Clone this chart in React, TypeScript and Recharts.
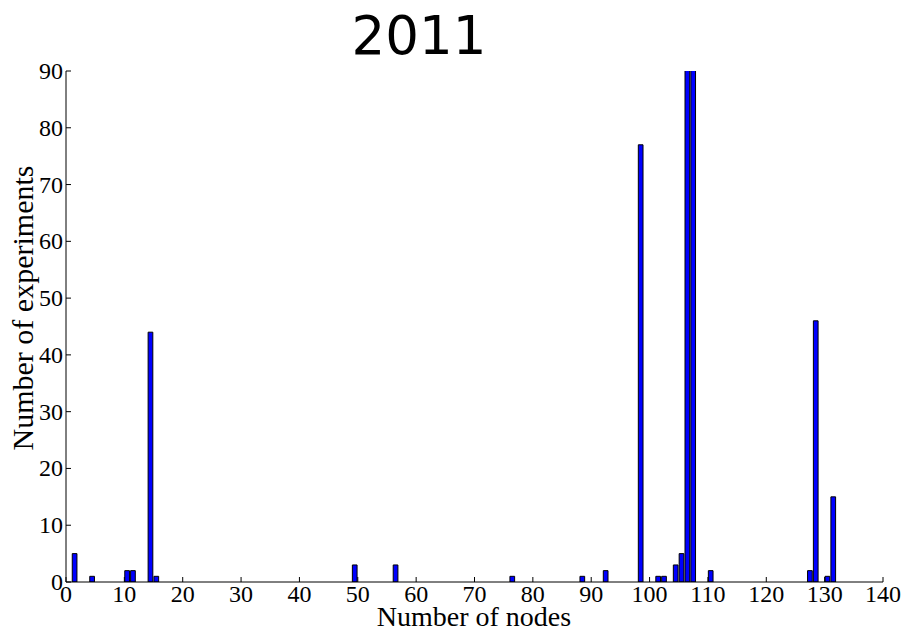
import { Bar, BarChart, XAxis, YAxis } from "recharts";

// matplotlib-style histogram of experiment sizes
const nodeCounts = [1, 4, 10, 11, 14, 15, 49, 56, 76, 88, 92, 98, 101, 102, 104, 105, 106, 107, 110, 127, 128, 130, 131];
const experiments = [5, 1, 2, 2, 44, 1, 3, 3, 1, 1, 2, 77, 1, 1, 3, 5, 150, 118, 2, 2, 46, 1, 15];
const xTicks = [0, 10, 20, 30, 40, 50, 60, 70, 80, 90, 100, 110, 120, 130, 140];
const yTicks = [0, 10, 20, 30, 40, 50, 60, 70, 80, 90];

const BAR_WIDTH = 0.8; // bars are edge-aligned, width 0.8 units

const chartData = nodeCounts.map((n, i) => ({ center: n + BAR_WIDTH / 2, count: experiments[i] }));

const serif = '"Liberation Serif", "Times New Roman", serif';
const TICK_LEN = 5;

const BottomTick = (props: any) => {
  const { x, y, payload } = props;
  return (
    <g>
      <line x1={x} x2={x} y1={y} y2={y - TICK_LEN} stroke="#000" />
      <text x={x} y={y + 20} textAnchor="middle" fontFamily={serif} fontSize={24} fill="#000">
        {payload.value}
      </text>
    </g>
  );
};

const TopTick = (props: any) => {
  const { x, y } = props;
  return <line x1={x} x2={x} y1={y} y2={y + TICK_LEN} stroke="#000" />;
};

const LeftTick = (props: any) => {
  const { x, y, payload } = props;
  return (
    <g>
      <line x1={x} x2={x + TICK_LEN} y1={y} y2={y} stroke="#000" />
      <text x={x - 3} y={y + 8} textAnchor="end" fontFamily={serif} fontSize={24} fill="#000">
        {payload.value}
      </text>
    </g>
  );
};

const RightTick = (props: any) => {
  const { x, y } = props;
  return <line x1={x} x2={x - TICK_LEN} y1={y} y2={y} stroke="#000" />;
};

export default function App() {
  return (
    <div style={{ position: "absolute", left: 0, top: 0, width: 902, height: 632, background: "#fff" }}>
      <BarChart
        width={902}
        height={632}
        data={chartData}
        margin={{ top: 71, right: 19, bottom: 0, left: 0 }}
        barSize={4.7}
      >
        <XAxis
          dataKey="center"
          type="number"
          domain={[0, 140]}
          ticks={xTicks}
          height={50}
          tickSize={0}
          tickMargin={0}
          tickLine={false}
          axisLine={{ stroke: "#000" }}
          tick={<BottomTick />}
          interval={0}
        />
        <XAxis
          xAxisId="top"
          orientation="top"
          dataKey="center"
          type="number"
          domain={[0, 140]}
          ticks={xTicks}
          height={0}
          tickSize={0}
          tickMargin={0}
          tickLine={false}
          axisLine={{ stroke: "#000" }}
          tick={<TopTick />}
          interval={0}
        />
        <YAxis
          type="number"
          domain={[0, 90]}
          ticks={yTicks}
          allowDataOverflow
          width={66}
          tickSize={0}
          tickMargin={0}
          tickLine={false}
          axisLine={{ stroke: "#000" }}
          tick={<LeftTick />}
          interval={0}
        />
        <YAxis
          yAxisId="right"
          orientation="right"
          type="number"
          domain={[0, 90]}
          ticks={yTicks}
          width={0}
          tickSize={0}
          tickMargin={0}
          tickLine={false}
          axisLine={{ stroke: "#000" }}
          tick={<RightTick />}
          interval={0}
        />
        <Bar dataKey="count" fill="#0000ff" stroke="#000" strokeWidth={1} isAnimationActive={false} />
      </BarChart>
      <svg
        width={902}
        height={632}
        style={{ position: "absolute", left: 0, top: 0, pointerEvents: "none" }}
      >
        <text
          x={419}
          y={54}
          textAnchor="middle"
          fontFamily='"Comic Sans MS", "DejaVu Sans", sans-serif'
          fontSize={53}
          fill="#000"
        >
          2011
        </text>
        <text x={474} y={626} textAnchor="middle" fontFamily={serif} fontSize={28} fill="#000">
          Number of nodes
        </text>
        <text
          x={33}
          y={308}
          textAnchor="middle"
          fontFamily={serif}
          fontSize={30}
          fill="#000"
          transform="rotate(-90, 33, 308)"
        >
          Number of experiments
        </text>
      </svg>
    </div>
  );
}
